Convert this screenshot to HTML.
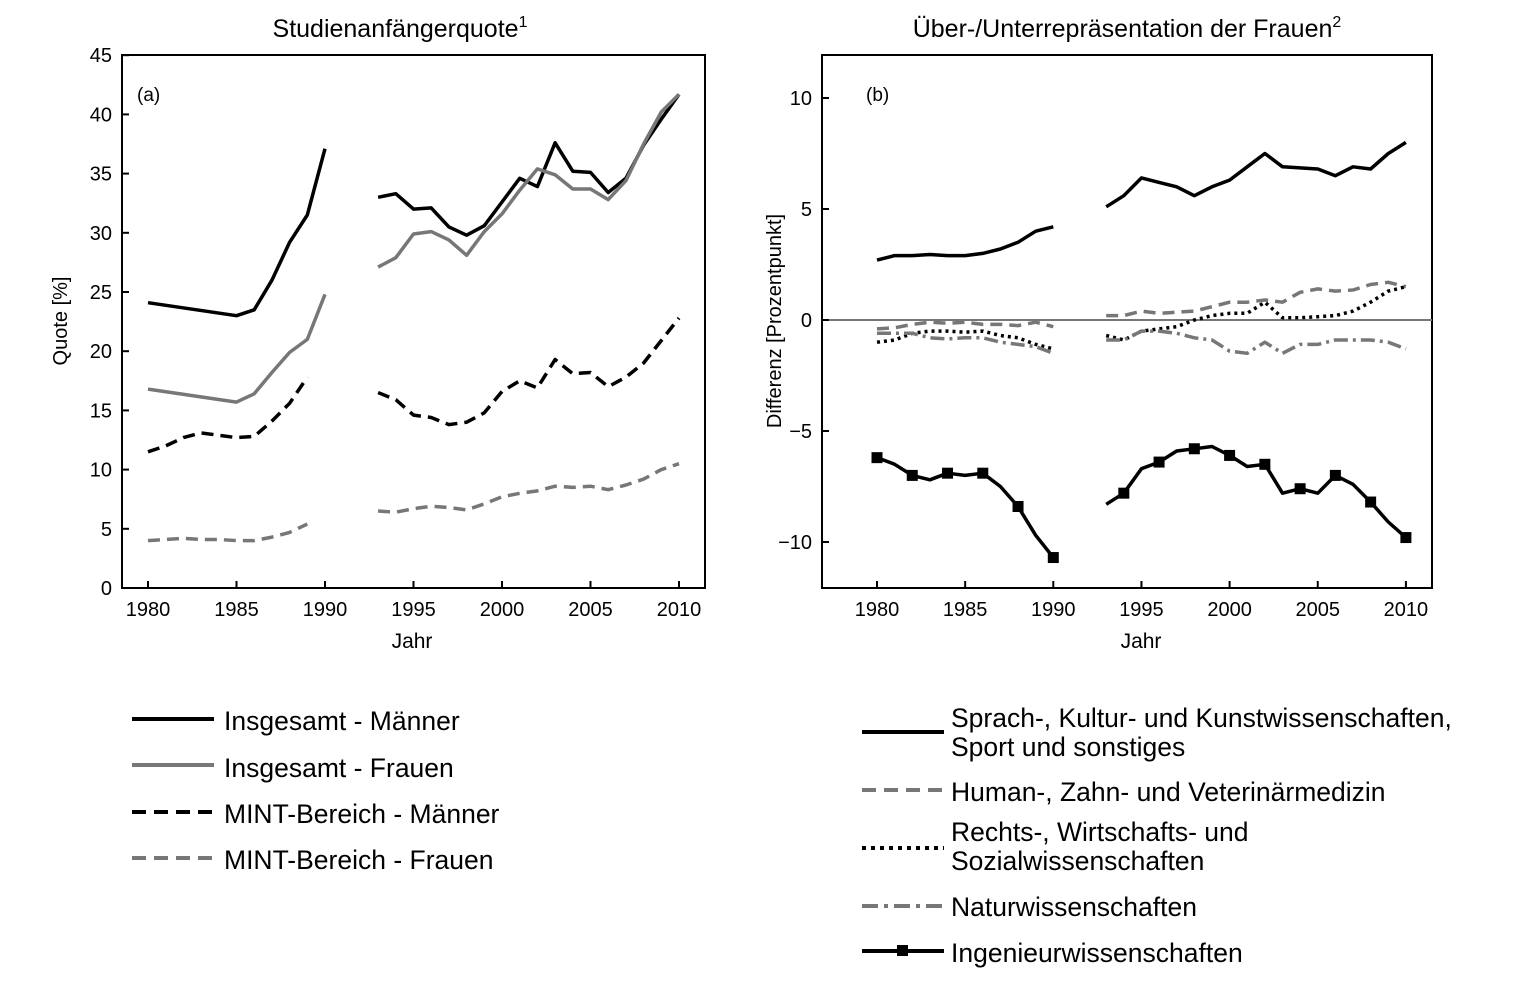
<!DOCTYPE html>
<html><head><meta charset="utf-8"><style>
html,body{margin:0;padding:0;background:#fff;}
svg text{font-family:"Liberation Sans",Arial,sans-serif;fill:#000;}
</style></head><body>
<svg id="s" width="1520" height="982" xmlns="http://www.w3.org/2000/svg">
<rect width="1520" height="982" fill="#fff"/>
<rect x="122" y="55" width="583" height="533" fill="none" stroke="#000" stroke-width="2"/>
<text x="400" y="37" font-size="25" text-anchor="middle">Studienanfängerquote<tspan font-size="16" dy="-10">1</tspan></text>
<text x="137" y="101" font-size="19">(a)</text>
<text x="412" y="648" font-size="21" text-anchor="middle">Jahr</text>
<text transform="translate(67,321) rotate(-90)" font-size="20" text-anchor="middle">Quote [%]</text>
<rect x="822" y="55" width="610" height="533" fill="none" stroke="#000" stroke-width="2"/>
<text x="1127" y="37" font-size="25" text-anchor="middle">Über-/Unterrepräsentation der Frauen<tspan font-size="16" dy="-10">2</tspan></text>
<text x="866" y="101" font-size="19">(b)</text>
<text x="1141" y="648" font-size="21" text-anchor="middle">Jahr</text>
<text transform="translate(781,321) rotate(-90)" font-size="20" text-anchor="middle">Differenz [Prozentpunkt]</text>
<line x1="822" y1="320" x2="1432" y2="320" stroke="#777" stroke-width="2"/>
<g id="g"></g>
<g font-size="26.5">
<line x1="132" y1="719" x2="214" y2="719" stroke="#000" stroke-width="4"/><text x="224" y="730">Insgesamt - Männer</text>
<line x1="132" y1="765" x2="214" y2="765" stroke="#777" stroke-width="4"/><text x="224" y="777">Insgesamt - Frauen</text>
<line x1="132" y1="812" x2="214" y2="812" stroke="#000" stroke-width="4" stroke-dasharray="14,8"/><text x="224" y="823">MINT-Bereich - Männer</text>
<line x1="132" y1="858" x2="214" y2="858" stroke="#777" stroke-width="4" stroke-dasharray="14,8"/><text x="224" y="869">MINT-Bereich - Frauen</text>
<line x1="862" y1="732" x2="944" y2="732" stroke="#000" stroke-width="4"/><text x="951" y="727">Sprach-, Kultur- und Kunstwissenschaften,</text><text x="951" y="756">Sport und sonstiges</text>
<line x1="862" y1="790" x2="944" y2="790" stroke="#777" stroke-width="4" stroke-dasharray="14,8"/><text x="951" y="801">Human-, Zahn- und Veterinärmedizin</text>
<line x1="862" y1="848" x2="944" y2="848" stroke="#000" stroke-width="4" stroke-dasharray="4,5"/><text x="951" y="841">Rechts-, Wirtschafts- und</text><text x="951" y="870">Sozialwissenschaften</text>
<line x1="862" y1="906" x2="944" y2="906" stroke="#777" stroke-width="4" stroke-dasharray="16,6,4,6"/><text x="951" y="916">Naturwissenschaften</text>
<line x1="862" y1="951" x2="944" y2="951" stroke="#000" stroke-width="4"/><rect x="897" y="945" width="11" height="11" fill="#000"/><text x="951" y="962">Ingenieurwissenschaften</text>
</g>
</svg>
<script>
const NS="http://www.w3.org/2000/svg",g=document.getElementById("g");
function el(t,a,txt){const e=document.createElementNS(NS,t);for(const k in a)e.setAttribute(k,a[k]);if(txt!==undefined)e.textContent=txt;g.appendChild(e);return e;}
const L={x:y=>148+(y-1980)*17.7,y:v=>588-v*11.84};
const R={x:y=>877+(y-1980)*17.63,y:v=>320-v*22.2};
for(let yr=1980;yr<=2010;yr+=5){
 for(const A of [L,R]){const x=A.x(yr);el("line",{x1:x,y1:588,x2:x,y2:581,stroke:"#000","stroke-width":2});el("text",{x:x,y:616,"font-size":20,"text-anchor":"middle"},yr);}
}
for(let v=0;v<=45;v+=5){const y=L.y(v);el("line",{x1:122,y1:y,x2:129,y2:y,stroke:"#000","stroke-width":2});el("text",{x:112,y:y+7,"font-size":20,"text-anchor":"end"},v);}
for(let v=-10;v<=10;v+=5){const y=R.y(v);el("line",{x1:822,y1:y,x2:829,y2:y,stroke:"#000","stroke-width":2});el("text",{x:812,y:y+7,"font-size":20,"text-anchor":"end"},String(v).replace("-","\u2212"));}
function ser(A,segs,st,da,mk){for(const s of segs){const pts=s.map(p=>A.x(p[0]).toFixed(1)+","+A.y(p[1]).toFixed(1)).join(" ");const a={points:pts,fill:"none",stroke:st,"stroke-width":3.5,"stroke-linejoin":"round"};if(da)a["stroke-dasharray"]=da;el("polyline",a);if(mk)for(const p of s)if(p[0]%2==0)el("rect",{x:A.x(p[0])-5.5,y:A.y(p[1])-5.5,width:11,height:11,fill:"#000"});}}
function seq(start,vals){return vals.map((v,i)=>[start+i,v]);}
ser(L,[[[1980,24.1],[1985,23.0],[1986,23.5],[1987,26],[1988,29.2],[1989,31.5],[1990,37.1]],seq(1993,[33.0,33.3,32.0,32.1,30.5,29.8,30.6,32.6,34.6,33.9,37.6,35.2,35.1,33.4,34.6,37.4,39.6,41.7])],"#000");
ser(L,[[[1980,16.8],[1985,15.7],[1986,16.4],[1987,18.2],[1988,19.9],[1989,21.0],[1990,24.8]],seq(1993,[27.1,27.9,29.9,30.1,29.4,28.1,30.1,31.6,33.6,35.4,34.9,33.7,33.7,32.8,34.4,37.5,40.2,41.7])],"#777");
ser(L,[seq(1980,[11.5,12.0,12.7,13.1,12.9,12.7,12.8,14.1,15.6,17.8]),seq(1993,[16.5,15.9,14.6,14.4,13.8,14.0,14.8,16.6,17.5,16.9,19.3,18.1,18.2,17.0,17.8,19.0,20.9,22.8])],"#000","12,7");
ser(L,[seq(1980,[4.0,4.1,4.2,4.1,4.1,4.0,4.0,4.3,4.7,5.4]),seq(1993,[6.5,6.4,6.7,6.9,6.8,6.6,7.1,7.7,8.0,8.2,8.6,8.5,8.6,8.3,8.7,9.2,10.0,10.5])],"#777","12,7");
ser(R,[seq(1980,[2.7,2.9,2.9,2.95,2.9,2.9,3.0,3.2,3.5,4.0,4.2]),seq(1993,[5.1,5.6,6.4,6.2,6.0,5.6,6.0,6.3,6.9,7.5,6.9,6.85,6.8,6.5,6.9,6.8,7.5,8.0])],"#000");
ser(R,[seq(1980,[-0.4,-0.35,-0.2,-0.1,-0.15,-0.1,-0.2,-0.2,-0.25,-0.1,-0.3]),seq(1993,[0.2,0.2,0.4,0.3,0.35,0.4,0.6,0.8,0.8,0.9,0.8,1.25,1.4,1.3,1.35,1.6,1.7,1.5])],"#777","12,7");
ser(R,[seq(1980,[-1.0,-0.9,-0.6,-0.5,-0.5,-0.55,-0.5,-0.7,-0.8,-1.1,-1.3]),seq(1993,[-0.7,-0.9,-0.5,-0.4,-0.3,0,0.2,0.3,0.3,0.8,0.1,0.1,0.15,0.2,0.4,0.8,1.3,1.5])],"#000","3,4");
ser(R,[seq(1980,[-0.6,-0.6,-0.6,-0.8,-0.85,-0.8,-0.8,-1.0,-1.1,-1.2,-1.5]),seq(1993,[-0.9,-0.9,-0.5,-0.5,-0.6,-0.8,-0.9,-1.4,-1.5,-1.0,-1.5,-1.1,-1.1,-0.9,-0.9,-0.9,-1.0,-1.3])],"#777","14,5,3,5");
ser(R,[seq(1980,[-6.2,-6.5,-7.0,-7.2,-6.9,-7.0,-6.9,-7.5,-8.4,-9.7,-10.7]),seq(1993,[-8.3,-7.8,-6.7,-6.4,-5.9,-5.8,-5.7,-6.1,-6.6,-6.5,-7.8,-7.6,-7.8,-7.0,-7.4,-8.2,-9.1,-9.8])],"#000",null,true);
</script>
</body></html>
